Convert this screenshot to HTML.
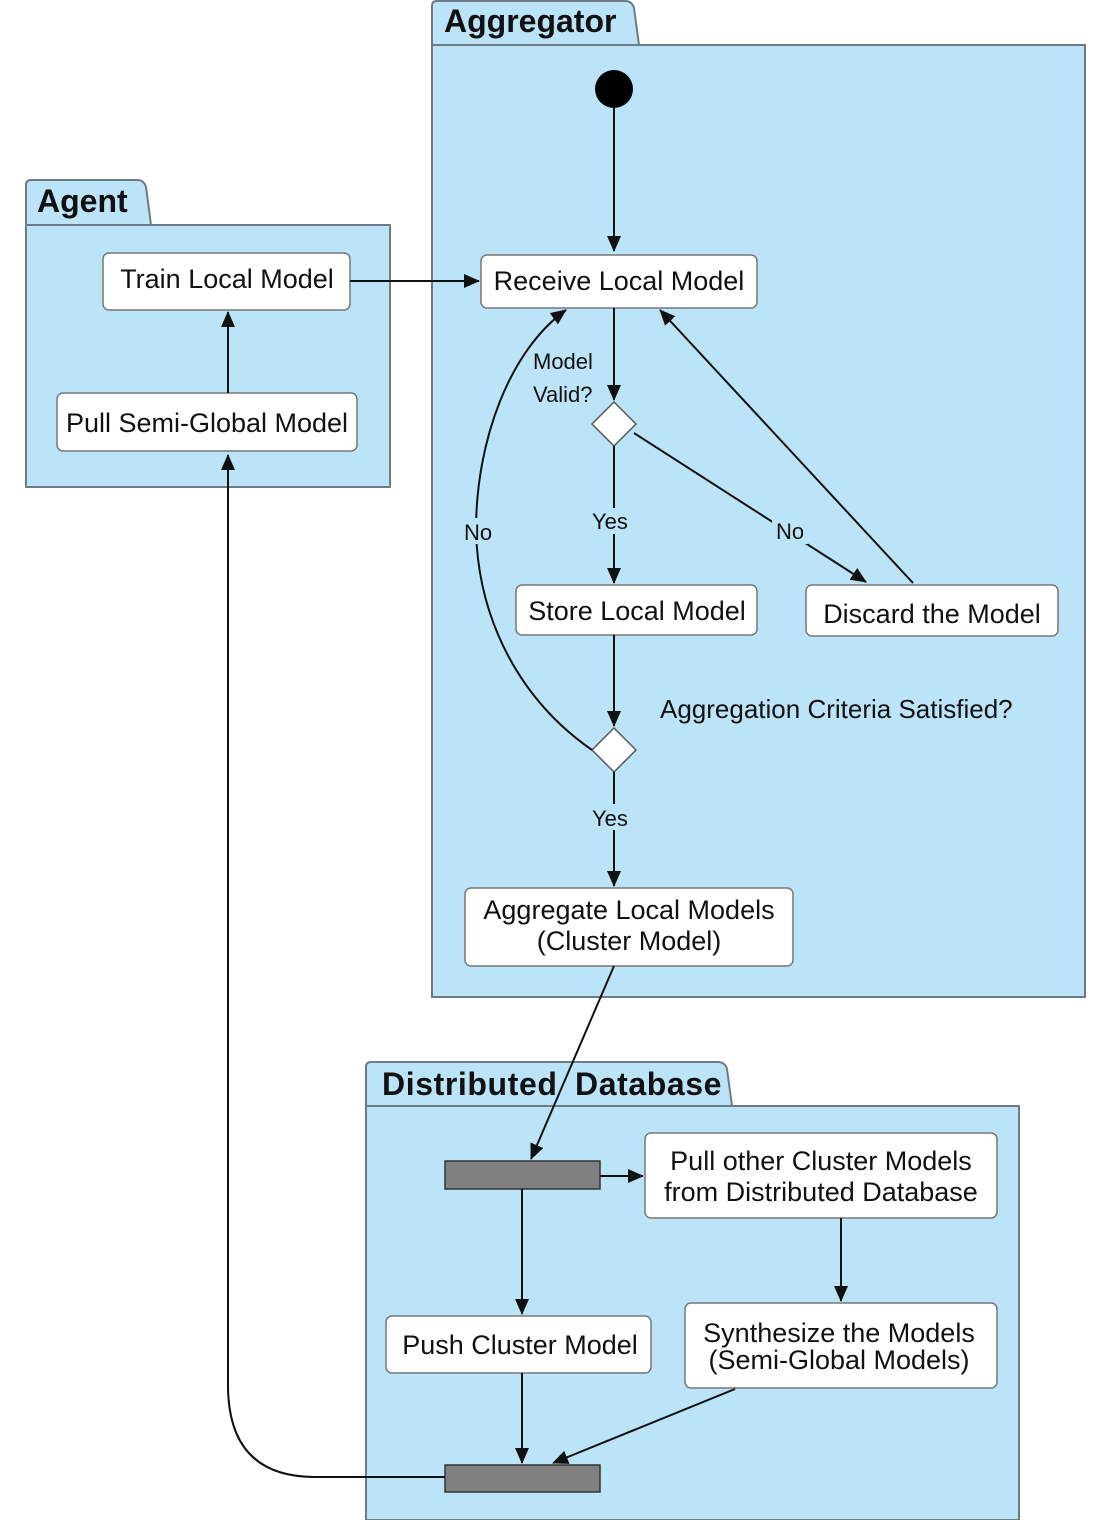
<!DOCTYPE html>
<html><head><meta charset="utf-8"><style>
html,body{margin:0;padding:0;background:#fff;}
svg{display:block;}
text{font-family:"Liberation Sans",sans-serif;fill:#111;}
.n{font-size:27px;text-anchor:middle;}
.l{font-size:22px;}
.h{font-size:32px;font-weight:bold;}
.pk{fill:#bce4f8;stroke:#6d7b85;stroke-width:2;}
.bx{fill:#fff;stroke:#777;stroke-width:1.5;}
.e{stroke:#111;stroke-width:2;fill:none;}
</style></head><body>
<svg width="1112" height="1520" viewBox="0 0 1112 1520" xmlns="http://www.w3.org/2000/svg">
<defs><marker id="a" markerWidth="16" markerHeight="14" refX="15" refY="7" orient="auto" markerUnits="userSpaceOnUse"><path d="M0,0 L16,7 L0,14 z" fill="#111"/></marker></defs>
<!-- Aggregator -->
<path class="pk" d="M432,45 L432,6 Q432,1 437,1 L625,1 Q632,1 634,8 L639,45 Z"/>
<rect class="pk" x="432" y="45" width="653" height="952"/>
<text class="h" x="444" y="32">Aggregator</text>
<!-- Agent -->
<path class="pk" d="M26,225 L26,185 Q26,180 31,180 L137,180 Q144,180 146,187 L151,225 Z"/>
<rect class="pk" x="26" y="225" width="364" height="262"/>
<text class="h" x="37" y="212">Agent</text>
<!-- DD -->
<path class="pk" d="M366,1106 L366,1067 Q366,1062 371,1062 L718,1062 Q725,1062 727,1069 L732,1106 Z"/>
<rect class="pk" x="366" y="1106" width="653" height="414"/>
<text class="h" x="382" y="1095" style="letter-spacing:0.6px;word-spacing:8px">Distributed Database</text>

<circle cx="614" cy="89" r="19" fill="#000"/>
<rect class="bx" x="103" y="253" width="247" height="57" rx="6"/><text class="n" x="227" y="288">Train Local Model</text>
<rect class="bx" x="57" y="393" width="300" height="58" rx="6"/><text class="n" x="207" y="432">Pull Semi-Global Model</text>
<rect class="bx" x="481" y="255" width="276" height="53" rx="6"/><text class="n" x="619" y="290">Receive Local Model</text>
<polygon points="614,402 636,424 614,446 592,424" fill="#fff" stroke="#555" stroke-width="1.5"/>
<rect class="bx" x="516" y="585" width="241" height="50" rx="6"/><text class="n" x="637" y="620">Store Local Model</text>
<rect class="bx" x="806" y="585" width="252" height="51" rx="6"/><text class="n" x="932" y="623">Discard the Model</text>
<polygon points="614,728 636,750 614,772 592,750" fill="#fff" stroke="#555" stroke-width="1.5"/>
<rect class="bx" x="465" y="888" width="328" height="78" rx="6"/><text class="n" x="629" y="919">Aggregate Local Models</text><text class="n" x="629" y="950">(Cluster Model)</text>
<rect x="445" y="1161" width="155" height="28" fill="#808080" stroke="#333" stroke-width="1.5"/>
<rect class="bx" x="645" y="1133" width="352" height="85" rx="6"/><text class="n" x="821" y="1170">Pull other Cluster Models</text><text class="n" x="821" y="1201">from Distributed Database</text>
<rect class="bx" x="386" y="1316" width="265" height="57" rx="6"/><text class="n" x="520" y="1354">Push Cluster Model</text>
<rect class="bx" x="685" y="1303" width="312" height="85" rx="6"/><text class="n" x="839" y="1342">Synthesize the Models</text><text class="n" x="839" y="1369">(Semi-Global Models)</text>
<rect x="445" y="1465" width="155" height="27" fill="#808080" stroke="#333" stroke-width="1.5"/>

<line class="e" x1="614" y1="108" x2="614" y2="251" marker-end="url(#a)"/>
<line class="e" x1="350" y1="281" x2="479" y2="281" marker-end="url(#a)"/>
<line class="e" x1="228" y1="393" x2="228" y2="312" marker-end="url(#a)"/>
<line class="e" x1="614" y1="308" x2="614" y2="400" marker-end="url(#a)"/>
<line class="e" x1="614" y1="446" x2="614" y2="583" marker-end="url(#a)"/>
<line class="e" x1="634" y1="433" x2="866" y2="582" marker-end="url(#a)"/>
<line class="e" x1="913" y1="583" x2="660" y2="310" marker-end="url(#a)"/>
<line class="e" x1="614" y1="635" x2="614" y2="726" marker-end="url(#a)"/>
<path class="e" d="M592,750 C520,700 478,620 476,530 C476,440 510,350 566,310" marker-end="url(#a)"/>
<line class="e" x1="614" y1="772" x2="614" y2="886" marker-end="url(#a)"/>
<line class="e" x1="614" y1="966" x2="531" y2="1159" marker-end="url(#a)"/>
<line class="e" x1="600" y1="1176" x2="643" y2="1176" marker-end="url(#a)"/>
<line class="e" x1="522" y1="1189" x2="522" y2="1314" marker-end="url(#a)"/>
<line class="e" x1="841" y1="1218" x2="841" y2="1301" marker-end="url(#a)"/>
<line class="e" x1="522" y1="1373" x2="522" y2="1463" marker-end="url(#a)"/>
<line class="e" x1="735" y1="1389" x2="553" y2="1463" marker-end="url(#a)"/>
<path class="e" d="M445,1477 L315,1477 Q228,1477 228,1385 L228,455" marker-end="url(#a)"/>

<text class="l" x="533" y="369">Model</text><text class="l" x="533" y="402">Valid?</text>
<rect x="590" y="508" width="44" height="26" fill="#bce4f8"/><text class="l" x="592" y="529">Yes</text>
<rect x="772" y="518" width="36" height="26" fill="#bce4f8"/><text class="l" x="776" y="539">No</text>
<rect x="462" y="518" width="36" height="26" fill="#bce4f8"/><text class="l" x="464" y="540">No</text>
<text class="l" x="660" y="718" style="font-size:26px">Aggregation Criteria Satisfied?</text>
<rect x="590" y="804" width="44" height="26" fill="#bce4f8"/><text class="l" x="592" y="826">Yes</text>
</svg>
</body></html>
